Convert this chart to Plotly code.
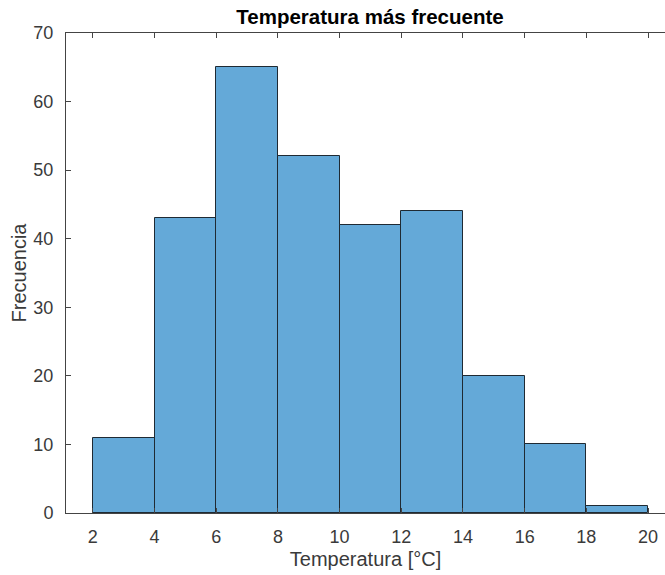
import plotly.graph_objects as go

bin_edges = [2, 4, 6, 8, 10, 12, 14, 16, 18, 20]
counts = [11, 43, 65, 52, 42, 44, 20, 10, 1]
x_ticks = [2, 4, 6, 8, 10, 12, 14, 16, 18, 20]
y_ticks = [0, 10, 20, 30, 40, 50, 60, 70]

centers = [(bin_edges[i] + bin_edges[i + 1]) / 2 for i in range(len(counts))]
widths = [bin_edges[i + 1] - bin_edges[i] for i in range(len(counts))]

fig = go.Figure(go.Bar(
    x=centers, y=counts, width=widths,
    marker=dict(color="#64a9d8", line=dict(color="#1f2a33", width=1)),
))

FONT = "Liberation Sans, Arial, sans-serif"
axis_font = dict(family=FONT, size=18, color="#3a3a3a")
fig.update_layout(
    width=665, height=575,
    margin=dict(l=66, r=0, t=33, b=62),
    paper_bgcolor="white", plot_bgcolor="white",
    showlegend=False,
    title=dict(text="<b>Temperatura más frecuente</b>",
               font=dict(family=FONT, size=20.5, color="black"),
               x=370 / 665, xref="container", xanchor="center",
               y=1 - 17 / 575, yref="container", yanchor="middle"),
    bargap=0,
)
fig.update_xaxes(
    range=[1.13, 20.55], tickvals=x_ticks, ticks="inside", ticklen=5,
    tickcolor="#444", showline=True, linecolor="#444", linewidth=1, mirror="ticks",
    showgrid=False, zeroline=False, tickfont=axis_font, ticklabelstandoff=7,
    title=dict(text="Temperatura [°C]", font=dict(family=FONT, size=20, color="#3a3a3a"), standoff=6),
)
fig.update_yaxes(
    range=[0, 70], tickvals=y_ticks, ticks="inside", ticklen=5,
    tickcolor="#444", showline=True, linecolor="#444", linewidth=1, mirror=False,
    showgrid=False, zeroline=False, tickfont=axis_font, ticklabelstandoff=8,
    title=dict(text="Frecuencia", font=dict(family=FONT, size=20, color="#3a3a3a"), standoff=1),
)
fig.write_html("out.html")
